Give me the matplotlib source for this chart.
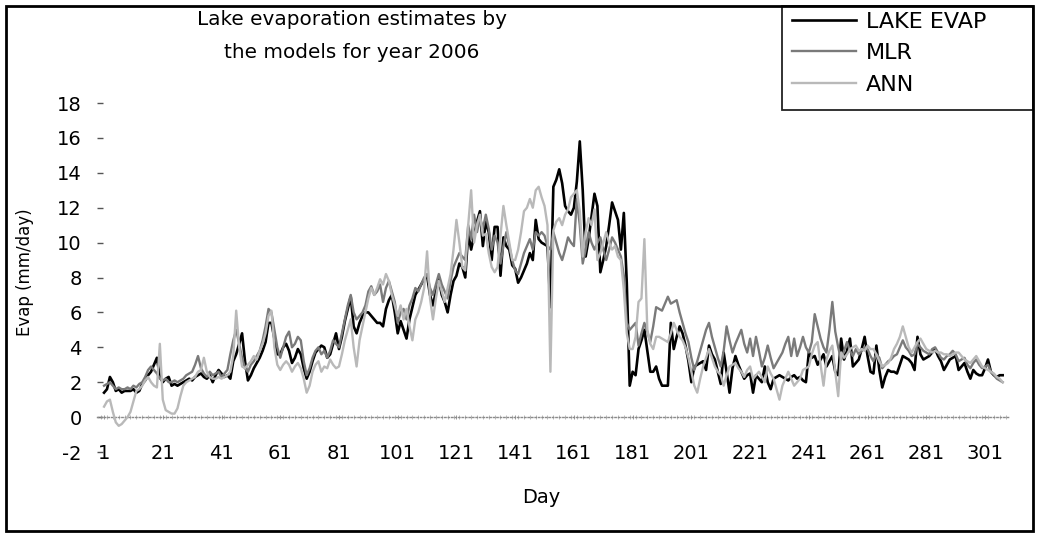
import numpy as np
import matplotlib
matplotlib.use("Agg")
import matplotlib.pyplot as plt
from matplotlib.patches import Rectangle
from matplotlib.ticker import MultipleLocator

plt.rcParams['font.family'] = ['DejaVu Sans']

# Daily lake evaporation (mm/day), 2006
lake_evap = [
    1.4, 1.6, 2.3, 2.0, 1.5, 1.6, 1.4, 1.5, 1.5, 1.5,
    1.6, 1.4, 1.5, 1.9, 2.1, 2.4, 2.6, 3.0, 3.4, 2.3,
    2.0, 2.2, 2.3, 1.8, 1.9, 1.8, 1.9, 2.0, 2.1, 2.2,
    2.1, 2.3, 2.4, 2.5, 2.3, 2.2, 2.4, 2.0, 2.4, 2.7,
    2.5, 2.3, 2.4, 2.2, 3.2, 3.6, 4.2, 4.8, 3.2, 2.1,
    2.4, 2.8, 3.1, 3.4, 3.8, 4.3, 5.4, 5.4, 4.5, 3.6,
    3.6, 4.0, 4.2, 3.8, 3.1, 3.4, 3.9, 3.6, 2.8, 2.2,
    2.6, 3.2, 3.7, 3.9, 4.1, 4.0, 3.4, 3.6, 4.2, 4.8,
    3.9, 4.6, 5.5, 6.2, 6.9, 5.2, 4.8, 5.4, 5.8, 6.0,
    6.0, 5.8, 5.6, 5.4, 5.4, 5.2, 6.2, 6.7, 7.0, 6.0,
    4.8, 5.5, 5.0, 4.5, 5.6, 6.3, 7.0, 7.3, 7.6, 7.9,
    8.1, 7.0, 6.4, 7.2, 7.9, 7.0, 6.6, 6.0, 7.0, 7.8,
    8.1, 8.8, 8.6, 8.0, 10.5, 9.6, 10.4, 11.2, 11.8, 9.8,
    11.2, 10.6, 9.0, 10.9, 10.9, 8.1, 10.3, 9.8, 9.6, 8.7,
    8.5, 7.7, 8.0, 8.4, 8.8, 9.4, 9.0, 11.3, 10.2, 10.0,
    9.9, 9.8, 6.3, 13.2, 13.6, 14.2, 13.4, 12.1, 11.8, 11.6,
    12.0, 13.5, 15.8, 13.0, 9.2, 10.2, 11.5, 12.8, 12.1, 8.3,
    9.0, 9.8, 11.0, 12.3, 11.8, 11.3, 9.6, 11.7, 7.7, 1.8,
    2.6, 2.4, 3.9, 4.4, 5.0, 3.8, 2.6, 2.6, 2.9, 2.2,
    1.8, 1.8, 1.8, 5.4, 3.9, 4.6, 5.2, 4.8, 4.1, 3.2,
    2.0, 2.9, 3.0, 3.1, 3.2, 2.7, 4.1, 3.6, 3.3, 2.6,
    1.9, 3.7, 2.6, 1.4, 2.8, 3.5, 3.0, 2.6, 2.2, 2.4,
    2.5, 1.4, 2.4, 2.2, 2.0, 2.9, 2.0, 1.6, 2.2, 2.3,
    2.4, 2.3, 2.2, 2.1, 2.3, 2.4, 2.2, 2.3, 2.1, 2.0,
    3.7, 3.4, 3.5, 3.0, 3.3, 3.6, 2.9, 3.2, 3.5, 2.6,
    2.4, 4.5, 3.3, 3.8, 4.5, 2.9, 3.1, 3.3, 3.9, 4.6,
    3.5, 2.6, 2.5, 4.1, 2.7, 1.7, 2.3, 2.7, 2.6, 2.6,
    2.5, 3.0, 3.5, 3.4, 3.3, 3.1, 2.7, 4.6, 3.6, 3.3,
    3.4, 3.5, 3.7, 3.9, 3.5, 3.2, 2.7, 3.0, 3.3, 3.4,
    3.5, 2.7, 2.9, 3.1, 2.6, 2.2, 2.7, 2.5, 2.4, 2.4,
    2.8, 3.3, 2.6, 2.4, 2.3, 2.4, 2.4,
]

# Multiple linear regression estimate
mlr = [
    1.8, 1.9, 2.0, 1.8, 1.6, 1.7, 1.6, 1.6, 1.7, 1.6,
    1.8, 1.7, 1.9, 2.0, 2.3, 2.7, 2.9, 2.7, 2.5, 2.2,
    2.1, 2.2, 2.0, 2.0, 2.1, 2.0, 2.1, 2.2, 2.4, 2.5,
    2.6, 3.0, 3.5, 2.8, 2.5, 2.3, 2.6, 2.4, 2.5, 2.6,
    2.3, 2.5, 2.7, 3.6, 4.4, 5.0, 4.2, 3.4, 2.8, 2.6,
    3.0, 3.2, 3.5, 3.8, 4.4, 5.2, 6.2, 6.0, 5.0, 4.0,
    3.4, 4.0, 4.6, 4.9, 4.0, 4.2, 4.6, 4.4, 3.2, 2.4,
    2.8, 3.4, 3.8, 4.0, 3.6, 3.8, 3.4, 3.8, 4.4, 4.2,
    4.0, 4.8, 5.6, 6.4, 7.0, 6.0, 5.6, 5.8, 6.0, 6.4,
    7.2, 7.5, 7.0, 7.2, 7.6, 6.6, 7.4, 7.8, 7.2, 6.6,
    5.4, 6.0, 6.2, 5.6, 6.4, 6.8, 7.4, 7.2, 7.6, 8.0,
    8.2, 7.4, 7.0, 7.6, 8.2, 7.6, 7.2, 6.8, 7.8, 8.6,
    9.0, 9.4, 9.2, 9.0, 11.0, 10.2, 11.6, 10.6, 11.4, 10.8,
    11.6, 10.8, 9.6, 10.4, 10.0, 8.8, 9.8, 10.6, 9.8, 9.0,
    8.4, 8.2, 8.8, 9.4, 9.8, 10.2, 9.6, 10.6, 10.4, 10.6,
    10.4, 9.8, 9.6, 10.6, 10.0, 9.4, 9.0, 9.6, 10.3, 10.0,
    9.8, 12.5, 11.0, 8.8, 9.6, 10.6, 10.0, 9.6, 10.0, 10.3,
    9.6, 9.0, 9.6, 10.3, 10.0, 9.6, 9.2, 8.1, 5.4, 5.0,
    5.2, 5.4, 4.1, 4.8, 5.4, 4.9, 4.3, 5.2, 6.3, 6.2,
    6.1, 6.5, 6.9, 6.5, 6.6, 6.7, 6.0, 5.4, 4.8, 4.3,
    3.4, 2.7, 3.2, 3.8, 4.4, 5.0, 5.4, 4.6, 4.0, 3.4,
    2.9, 3.8, 5.2, 4.4, 3.7, 4.2, 4.6, 5.0, 4.2, 3.7,
    4.5, 3.5, 4.6, 3.8, 2.9, 3.4, 4.1, 3.4, 2.8, 3.1,
    3.4, 3.7, 4.2, 4.6, 3.5, 4.5, 3.5, 4.0, 4.6, 4.0,
    3.7, 4.3, 5.9, 5.2, 4.5, 4.0, 3.7, 5.0, 6.6, 4.9,
    4.0, 3.3, 3.8, 4.3, 3.8, 3.5, 3.9, 3.6, 3.8, 4.0,
    3.9, 3.5, 3.2, 3.6, 3.4, 2.8, 3.0, 3.2, 3.3, 3.5,
    3.6, 4.0, 4.4, 4.0, 3.8, 3.5, 3.6, 4.2, 4.0, 3.8,
    3.7, 3.6, 3.9, 4.0, 3.7, 3.4, 3.3, 3.5, 3.6, 3.8,
    3.6, 3.2, 3.3, 3.4, 3.0, 2.8, 3.1, 3.3, 3.0, 2.8,
    2.9, 3.0, 2.6, 2.4, 2.2, 2.1, 2.0,
]

# Artificial neural network estimate
ann = [
    0.6, 0.9, 1.0, 0.3, -0.3, -0.5, -0.4, -0.2, 0.0, 0.3,
    0.9, 1.5, 1.6, 1.8, 2.1, 2.3, 2.0, 1.8, 1.7, 4.2,
    1.0, 0.4, 0.3, 0.2, 0.2, 0.5, 1.2, 1.8, 2.0, 2.1,
    2.2, 2.3, 2.6, 2.7, 3.4, 2.6, 2.3, 2.2, 2.2, 2.3,
    2.2, 2.3, 2.4, 2.6, 3.5, 6.1, 4.0, 2.9, 2.8, 3.0,
    3.2, 3.5, 3.3, 3.8, 4.2, 4.8, 5.8, 6.1, 4.0, 3.0,
    2.7, 3.0, 3.2, 3.0, 2.6, 2.9, 3.1, 2.8, 2.2, 1.4,
    1.8, 2.6, 3.0, 3.2, 2.6, 2.9, 2.8, 3.3, 3.0, 2.8,
    2.9, 3.6, 4.4, 5.0, 5.6, 4.0, 2.9, 4.4, 5.2, 6.0,
    6.8, 7.4, 7.0, 7.4, 7.9, 7.6, 8.2, 7.8, 7.0, 6.4,
    5.8, 6.4, 5.6, 6.2, 5.2, 4.4, 5.6, 6.0, 6.6, 7.4,
    9.5, 6.8, 5.6, 6.8, 7.8, 7.2, 6.6, 7.4, 8.2, 9.6,
    11.3, 10.0, 8.6, 8.4, 11.0, 13.0, 10.0, 11.0, 11.6, 10.4,
    10.5, 9.4, 8.6, 8.3, 8.6, 10.4, 12.1, 11.0, 10.0, 9.0,
    9.0, 9.6, 10.6, 11.8, 12.0, 12.5, 12.0, 13.0, 13.2, 12.6,
    12.1, 11.0, 2.6, 10.7, 11.2, 11.4, 11.0, 11.6, 11.9, 12.6,
    12.8, 13.0, 11.8, 9.2, 10.6, 11.4, 11.0, 11.9, 9.0, 9.4,
    10.0, 10.6, 10.0, 9.6, 9.8, 9.2, 9.0, 7.3, 4.8, 3.9,
    3.9, 4.6, 6.6, 6.8, 10.2, 5.0, 4.2, 3.9, 4.6, 4.6,
    4.5, 4.4, 4.3, 4.8, 5.4, 5.0, 4.6, 4.4, 4.0, 3.4,
    2.6, 1.8, 1.4, 2.2, 2.9, 3.4, 3.9, 3.4, 2.9, 2.6,
    2.4, 1.8, 2.4, 2.9, 3.0, 3.1, 2.8, 2.6, 2.3, 2.7,
    2.9, 2.2, 2.4, 2.6, 2.3, 2.0, 2.9, 2.5, 2.2, 1.6,
    1.0, 1.8, 2.2, 2.6, 2.2, 1.8, 2.0, 2.2, 2.7, 2.8,
    2.9, 3.6, 4.1, 4.3, 3.0, 1.8, 3.3, 3.8, 4.1, 2.6,
    1.2, 3.7, 3.4, 3.6, 3.9, 4.0, 4.1, 3.8, 3.9, 3.8,
    4.1, 3.9, 3.9, 3.6, 3.2, 2.9, 3.0, 3.1, 3.4, 3.9,
    4.2, 4.6, 5.2, 4.6, 4.0, 3.7, 4.0, 4.3, 4.5, 4.2,
    3.9, 3.8, 3.7, 3.8, 3.7, 3.7, 3.6, 3.6, 3.5, 3.6,
    3.7, 3.7, 3.5, 3.3, 3.2, 3.1, 3.3, 3.5, 3.2, 2.9,
    2.8, 2.7, 2.6, 2.5, 2.3, 2.2, 2.0,
]

days = np.arange(1, len(lake_evap) + 1)
day_ticks = [1, 21, 41, 61, 81, 101, 121, 141, 161, 181, 201, 221, 241, 261, 281, 301]
y_ticks = [-2, 0, 2, 4, 6, 8, 10, 12, 14, 16, 18]

W, H = 1037, 535
fig = plt.figure(figsize=(W / 100, H / 100), dpi=100)
fig.patch.set_facecolor('white')

# axes placed in pixel terms
ax_l, ax_r, ax_t, ax_b = 97, 1010, 103, 452
ax = fig.add_axes([ax_l / W, 1 - ax_b / H, (ax_r - ax_l) / W, (ax_b - ax_t) / H])

ax.plot(days, lake_evap, color='black', lw=1.9, label='LAKE EVAP', zorder=3)
ax.plot(days, mlr, color='#7a7a7a', lw=1.7, label='MLR', zorder=4)
ax.plot(days, ann, color='#b9b9b9', lw=1.7, label='ANN', zorder=5)

ax.set_xlim(-1.4, 309.5)
ax.set_ylim(-2, 18)

for s in ['top', 'right', 'left']:
    ax.spines[s].set_visible(False)
ax.spines['bottom'].set_position(('data', 0))
ax.spines['bottom'].set_linestyle((0, (1, 1.5)))
ax.spines['bottom'].set_color('#8a8a8a')
ax.spines['bottom'].set_linewidth(1.0)

ax.set_yticks(y_ticks)
ax.set_yticklabels([str(v) for v in y_ticks])
ax.tick_params(axis='y', direction='in', length=4.5, width=1, color='#555555',
               labelsize=14, pad=11)

ax.set_xticks(day_ticks)
ax.set_xticklabels([str(d) for d in day_ticks])
ax.xaxis.set_minor_locator(MultipleLocator(2))
ax.tick_params(axis='x', which='major', length=3, width=0.7, color='#9a9a9a',
               direction='inout', labelsize=14, pad=18)
ax.tick_params(axis='x', which='minor', length=3, width=0.6, color='#b0b0b0',
               direction='inout')

ax.set_xlabel('Day', fontsize=14)
ax.xaxis.set_label_coords((541 - ax_l) / (ax_r - ax_l), (ax_b - 488) / (ax_b - ax_t))
ax.set_ylabel('Evap (mm/day)', fontsize=12)
ax.yaxis.set_label_coords((34 - ax_l) / (ax_r - ax_l), (ax_b - 272) / (ax_b - ax_t))

fig.text(352 / W, 1 - 36 / H,
         'Lake evaporation estimates by\nthe models for year 2006',
         ha='center', va='center', fontsize=14.4, linespacing=1.9,
         multialignment='center')

# legend entries, with a separate box drawn around them
lx0, lx1, ly0, ly1 = 782, 1033, 6, 110
leg = ax.legend(loc='upper left', bbox_to_anchor=((lx0 + 7) / W, 1 - (ly0 + 3) / H),
                bbox_transform=fig.transFigure, frameon=False,
                fontsize=16, handlelength=2.9, handletextpad=0.45,
                labelspacing=0.52, borderpad=0.12, borderaxespad=0)
fig.patches.append(Rectangle((lx0 / W, 1 - ly1 / H), (lx1 - lx0) / W, (ly1 - ly0) / H,
                             transform=fig.transFigure, fill=False,
                             edgecolor='#222222', linewidth=1.3, zorder=9))

# outer border of the chart area
fig.patches.append(Rectangle((6 / W, 4 / H), (1033 - 6) / W, (531 - 6) / H,
                             transform=fig.transFigure, fill=False,
                             edgecolor='black', linewidth=2.0, zorder=10))

fig.savefig('out.png', dpi=100, facecolor='white')
